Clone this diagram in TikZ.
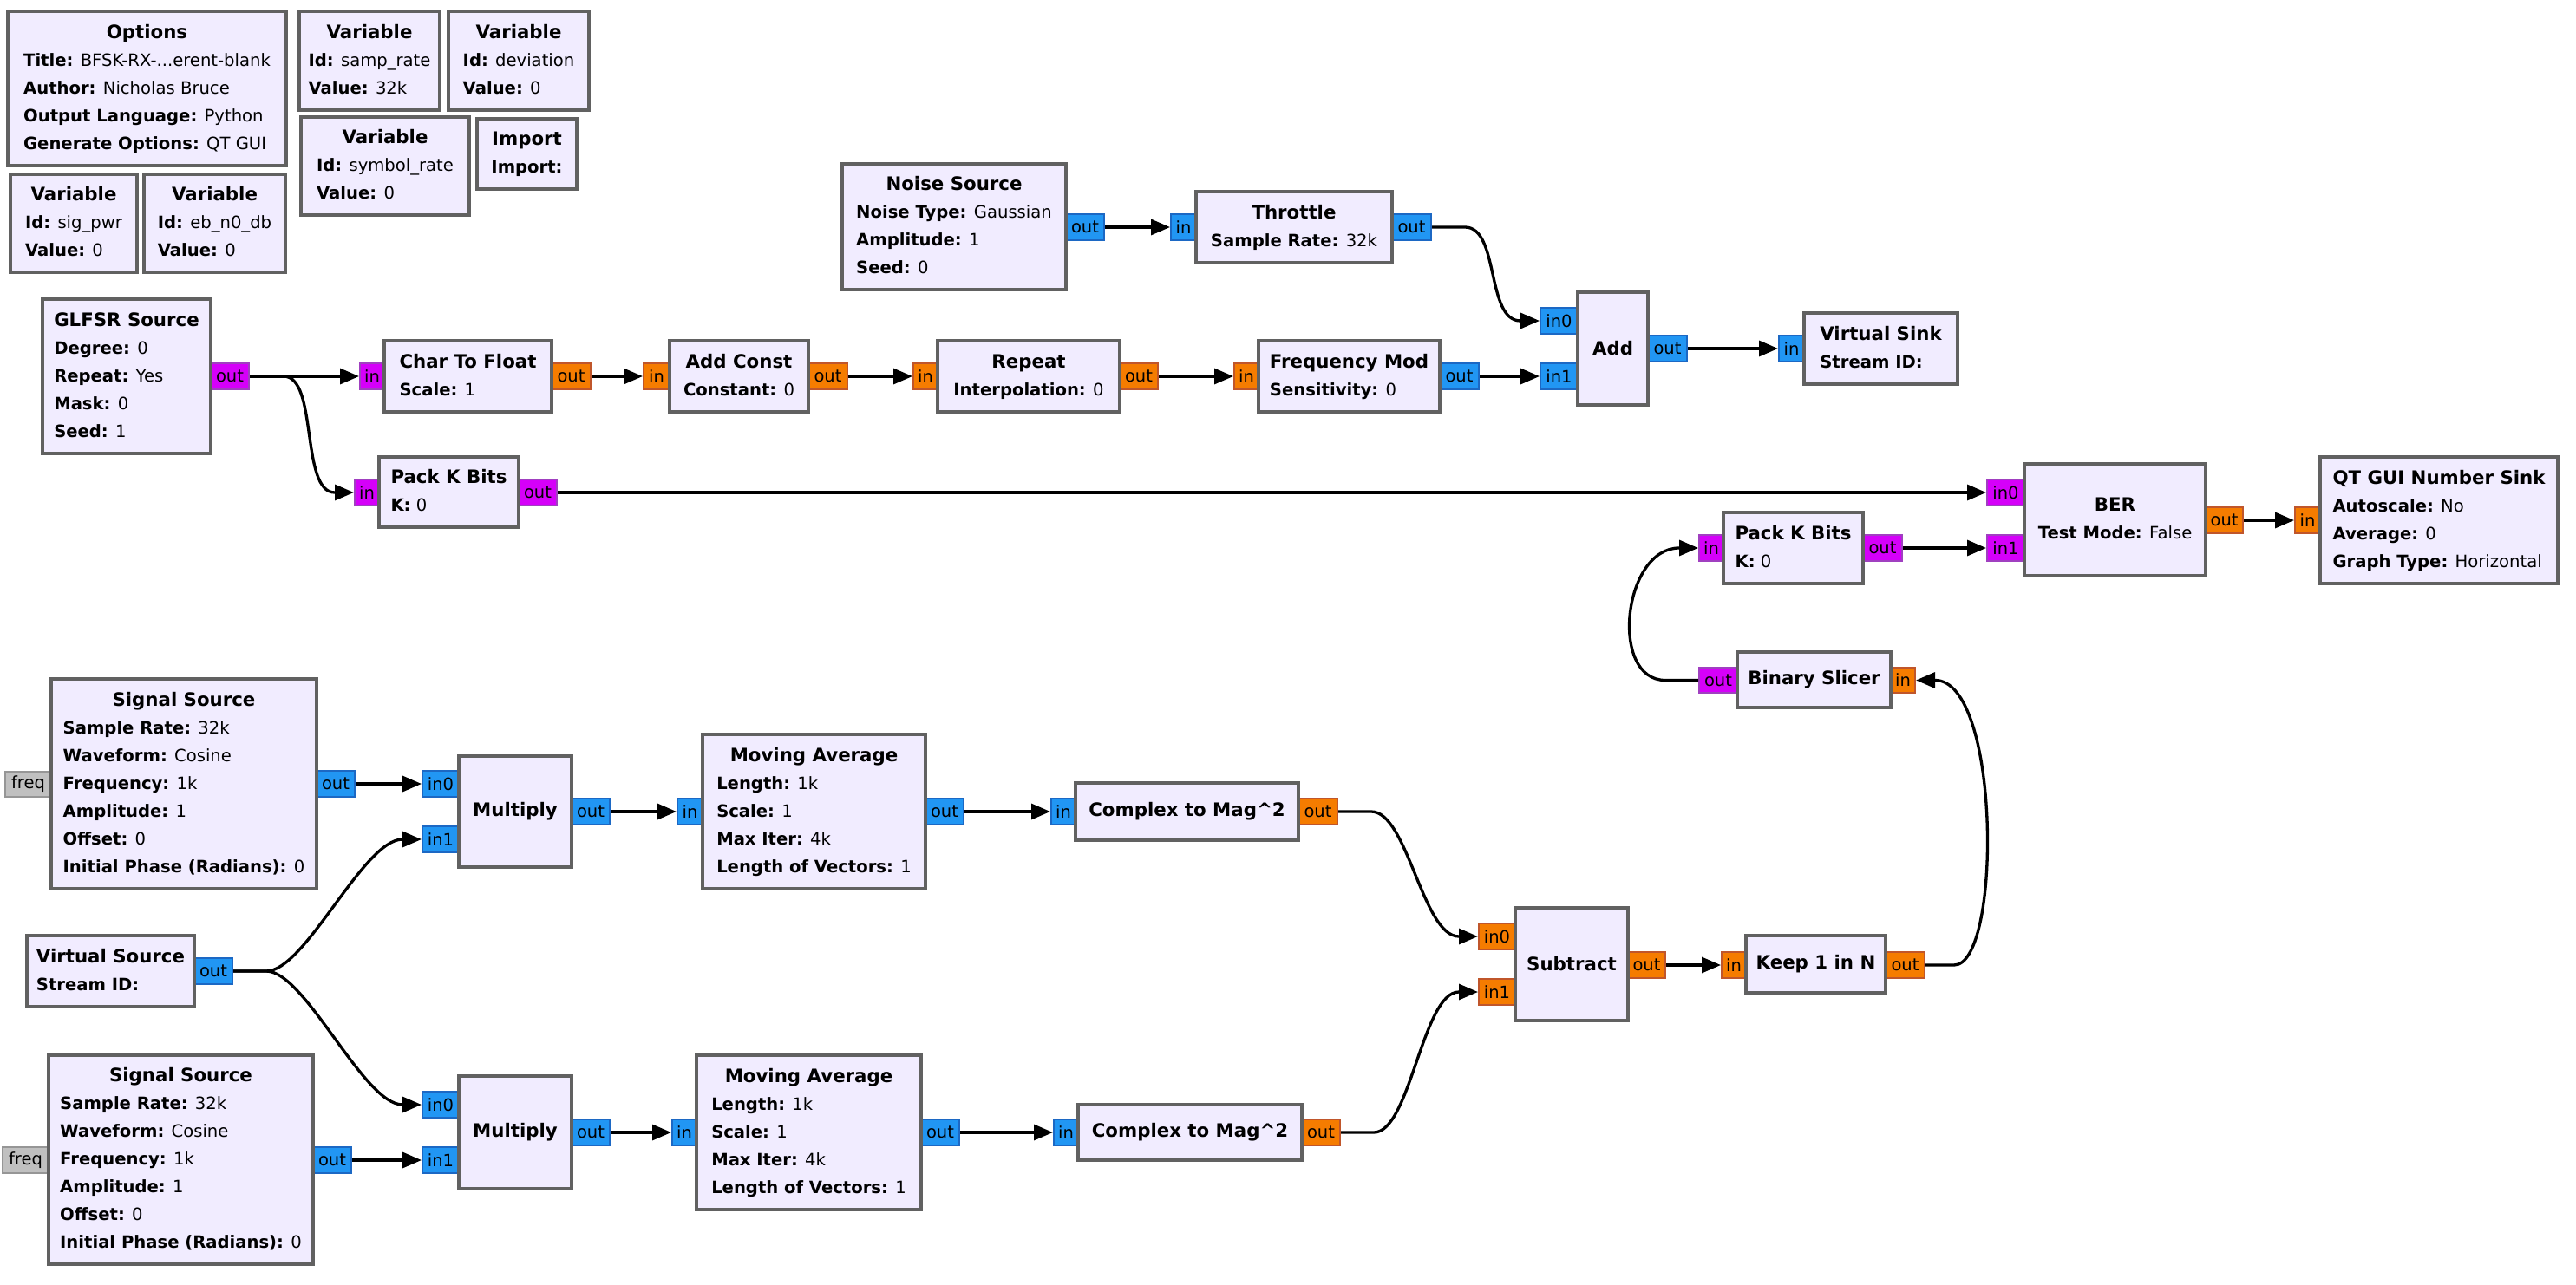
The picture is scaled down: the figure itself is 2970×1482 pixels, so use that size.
\documentclass[tikz,border=0pt]{standalone}
\usepackage{fontspec}
\setmainfont{DejaVu Sans}
\usetikzlibrary{arrows.meta,calc}
\definecolor{blkfill}{HTML}{F1ECFF}
\definecolor{blkline}{HTML}{616161}
\definecolor{cpx}{HTML}{2196F3}
\definecolor{cpxd}{HTML}{1C68C4}
\definecolor{flt}{HTML}{F57C00}
\definecolor{fltd}{HTML}{C0562B}
\definecolor{byt}{HTML}{D500F9}
\definecolor{bytd}{HTML}{A040C0}
\definecolor{msg}{HTML}{C0C0C0}
\definecolor{msgd}{HTML}{969696}
\newcommand\pf{\fontsize{19.6}{32}\selectfont}
\newcommand\tf{\fontsize{21.3}{32}\selectfont\bfseries}
\newcommand\portf{\fontsize{19.5}{24}\selectfont}
\newcommand\pv[2]{\textbf{#1:} #2}
\newcommand\bt[2]{\begin{tabular}{@{}l@{}}\multicolumn{1}{@{}c@{}}{\tf #1}\\#2\end{tabular}}
\newcommand\blk[6]{\node[blk, minimum width={(#4-#2)*1pt}, minimum height={(#5-#3)*1pt}] (#1) at ({(#2+#4)/2},{(#3+#5)/2}) {#6};}
\newcommand\prt[7]{\node[prt, #6, minimum width={(#4-#2)*1pt}, minimum height={(#5-#3)*1pt}] (#1) at ({(#2+#4)/2},{(#3+#5)/2}) {#7};}
\tikzset{
 blk/.style={draw=blkline, fill=blkfill, line width=3.5pt, inner sep=0pt, font=\pf},
 prt/.style={line width=2pt, inner sep=0pt, font=\portf, text=black},
 pc/.style={draw=cpxd, fill=cpx},
 pfl/.style={draw=fltd, fill=flt},
 pby/.style={draw=bytd, fill=byt},
 pms/.style={draw=msgd, fill=msg},
 conn/.style={line width=3.3pt, -{Triangle[length=22pt,width=18pt]}},
}
\begin{document}
\begin{tikzpicture}[x=1pt,y=-1pt]
\useasboundingbox[fill=white] (0,0) rectangle (2970,1482);
% ports
\prt{glfsr-out}{243}{419}{287}{449}{pby}{out}
\prt{c2f-in}{415}{419}{443}{449}{pby}{in}
\prt{c2f-out}{636}{419}{681}{449}{pfl}{out}
\prt{addc-in}{742}{419}{772}{449}{pfl}{in}
\prt{addc-out}{932}{419}{977}{449}{pfl}{out}
\prt{rep-in}{1053}{419}{1081}{449}{pfl}{in}
\prt{rep-out}{1291}{419}{1335}{449}{pfl}{out}
\prt{fmod-in}{1423}{419}{1451}{449}{pfl}{in}
\prt{fmod-out}{1660}{419}{1705}{449}{pc}{out}
\prt{noise-out}{1229}{247}{1273}{277}{pc}{out}
\prt{thr-in}{1350}{247}{1379}{277}{pc}{in}
\prt{thr-out}{1605}{247}{1650}{277}{pc}{out}
\prt{add-in0}{1776}{355}{1819}{385}{pc}{in0}
\prt{add-in1}{1776}{419}{1819}{449}{pc}{in1}
\prt{add-out}{1900}{387}{1945}{417}{pc}{out}
\prt{vsink-in}{2051}{387}{2080}{417}{pc}{in}
\prt{pack1-in}{409}{553}{437}{583}{pby}{in}
\prt{pack1-out}{598}{553}{642}{583}{pby}{out}
\prt{ber-in0}{2291}{553}{2334}{583}{pby}{in0}
\prt{ber-in1}{2291}{617}{2334}{647}{pby}{in1}
\prt{ber-out}{2543}{585}{2586}{615}{pfl}{out}
\prt{qt-in}{2646}{585}{2675}{615}{pfl}{in}
\prt{pack2-in}{1959}{617}{1987}{647}{pby}{in}
\prt{pack2-out}{2148}{617}{2193}{647}{pby}{out}
\prt{slc-out}{1959}{770}{2003}{799}{pby}{out}
\prt{slc-in}{2180}{770}{2208}{799}{pfl}{in}
\prt{ss1-freq}{6}{890}{59}{919}{pms}{freq}
\prt{ss1-out}{365}{889}{409}{919}{pc}{out}
\prt{mul1-in0}{487}{889}{529}{919}{pc}{in0}
\prt{mul1-in1}{487}{953}{529}{983}{pc}{in1}
\prt{mul1-out}{659}{921}{703}{951}{pc}{out}
\prt{ma1-in}{781}{921}{810}{951}{pc}{in}
\prt{ma1-out}{1067}{921}{1111}{951}{pc}{out}
\prt{cm1-in}{1212}{921}{1240}{951}{pc}{in}
\prt{cm1-out}{1497}{921}{1542}{951}{pfl}{out}
\prt{vsrc-out}{224}{1105}{268}{1135}{pc}{out}
\prt{ss2-freq}{3}{1323}{56}{1353}{pms}{freq}
\prt{ss2-out}{361}{1323}{405}{1353}{pc}{out}
\prt{mul2-in0}{487}{1259}{529}{1289}{pc}{in0}
\prt{mul2-in1}{487}{1323}{529}{1353}{pc}{in1}
\prt{mul2-out}{659}{1291}{703}{1321}{pc}{out}
\prt{ma2-in}{775}{1291}{803}{1321}{pc}{in}
\prt{ma2-out}{1062}{1291}{1106}{1321}{pc}{out}
\prt{cm2-in}{1215}{1291}{1243}{1321}{pc}{in}
\prt{cm2-out}{1501}{1291}{1545}{1321}{pfl}{out}
\prt{sub-in0}{1705}{1065}{1747}{1095}{pfl}{in0}
\prt{sub-in1}{1705}{1129}{1747}{1159}{pfl}{in1}
\prt{sub-out}{1877}{1098}{1920}{1128}{pfl}{out}
\prt{keep-in}{1985}{1098}{2013}{1128}{pfl}{in}
\prt{keep-out}{2174}{1098}{2219}{1128}{pfl}{out}
% blocks
\blk{opts}{9}{13}{330}{191}{\bt{Options}{\pv{Title}{BFSK-RX-...erent-blank}\\\pv{Author}{Nicholas Bruce}\\\pv{Output Language}{Python}\\\pv{Generate Options}{QT GUI}}}
\blk{vsamp}{345}{13}{507}{127}{\bt{Variable}{\pv{Id}{samp\_rate}\\\pv{Value}{32k}}}
\blk{vdev}{517}{13}{679}{127}{\bt{Variable}{\pv{Id}{deviation}\\\pv{Value}{0}}}
\blk{vsym}{347}{135}{541}{248}{\bt{Variable}{\pv{Id}{symbol\_rate}\\\pv{Value}{0}}}
\blk{imp}{550}{137}{665}{218}{\bt{Import}{\textbf{Import:}}}
\blk{vsig}{12}{201}{158}{314}{\bt{Variable}{\pv{Id}{sig\_pwr}\\\pv{Value}{0}}}
\blk{veb}{166}{201}{329}{314}{\bt{Variable}{\pv{Id}{eb\_n0\_db}\\\pv{Value}{0}}}
\blk{glfsr}{49}{345}{243}{523}{\bt{GLFSR Source}{\pv{Degree}{0}\\\pv{Repeat}{Yes}\\\pv{Mask}{0}\\\pv{Seed}{1}}}
\blk{c2f}{443}{393}{636}{475}{\bt{Char To Float}{\pv{Scale}{1}}}
\blk{addc}{772}{393}{932}{475}{\bt{Add Const}{\pv{Constant}{0}}}
\blk{rep}{1081}{393}{1291}{475}{\bt{Repeat}{\pv{Interpolation}{0}}}
\blk{fmod}{1451}{393}{1660}{475}{\bt{Frequency Mod}{\pv{Sensitivity}{0}}}
\blk{noise}{971}{189}{1229}{334}{\bt{Noise Source}{\pv{Noise Type}{Gaussian}\\\pv{Amplitude}{1}\\\pv{Seed}{0}}}
\blk{thr}{1379}{221}{1605}{303}{\bt{Throttle}{\pv{Sample Rate}{32k}}}
\blk{add}{1819}{337}{1900}{467}{{\tf Add}}
\blk{vsink}{2080}{361}{2257}{443}{\bt{Virtual Sink}{\textbf{Stream ID:}}}
\blk{pack1}{437}{527}{598}{608}{\bt{Pack K Bits}{\pv{K}{0}}}
\blk{ber}{2334}{535}{2543}{664}{\bt{BER}{\pv{Test Mode}{False}}}
\blk{qt}{2675}{527}{2949}{673}{\bt{QT GUI Number Sink}{\pv{Autoscale}{No}\\\pv{Average}{0}\\\pv{Graph Type}{Horizontal}}}
\blk{pack2}{1987}{591}{2148}{673}{\bt{Pack K Bits}{\pv{K}{0}}}
\blk{slc}{2003}{752}{2180}{816}{{\tf Binary Slicer}}
\blk{ss1}{59}{783}{365}{1025}{\bt{Signal Source}{\pv{Sample Rate}{32k}\\\pv{Waveform}{Cosine}\\\pv{Frequency}{1k}\\\pv{Amplitude}{1}\\\pv{Offset}{0}\\\pv{Initial Phase (Radians)}{0}}}
\blk{mul1}{529}{872}{659}{1000}{{\tf Multiply}}
\blk{ma1}{810}{847}{1067}{1025}{\bt{Moving Average}{\pv{Length}{1k}\\\pv{Scale}{1}\\\pv{Max Iter}{4k}\\\pv{Length of Vectors}{1}}}
\blk{cm1}{1240}{903}{1497}{969}{{\tf Complex to Mag\textasciicircum 2}}
\blk{vsrc}{31}{1079}{224}{1161}{\bt{Virtual Source}{\textbf{Stream ID:}}}
\blk{ss2}{56}{1217}{361}{1458}{\bt{Signal Source}{\pv{Sample Rate}{32k}\\\pv{Waveform}{Cosine}\\\pv{Frequency}{1k}\\\pv{Amplitude}{1}\\\pv{Offset}{0}\\\pv{Initial Phase (Radians)}{0}}}
\blk{mul2}{529}{1241}{659}{1371}{{\tf Multiply}}
\blk{ma2}{803}{1217}{1062}{1395}{\bt{Moving Average}{\pv{Length}{1k}\\\pv{Scale}{1}\\\pv{Max Iter}{4k}\\\pv{Length of Vectors}{1}}}
\blk{cm2}{1243}{1274}{1501}{1338}{{\tf Complex to Mag\textasciicircum 2}}
\blk{sub}{1747}{1047}{1877}{1177}{{\tf Subtract}}
\blk{keep}{2013}{1079}{2174}{1145}{{\tf Keep 1 in N}}
% straight connectors
\draw[conn] (glfsr-out.east) -- (glfsr-out.east -| c2f-in.west);
\draw[conn] (c2f-out.east) -- (c2f-out.east -| addc-in.west);
\draw[conn] (addc-out.east) -- (addc-out.east -| rep-in.west);
\draw[conn] (rep-out.east) -- (rep-out.east -| fmod-in.west);
\draw[conn] (fmod-out.east) -- (fmod-out.east -| add-in1.west);
\draw[conn] (noise-out.east) -- (noise-out.east -| thr-in.west);
\draw[conn] (add-out.east) -- (add-out.east -| vsink-in.west);
\draw[conn] (pack1-out.east) -- (pack1-out.east -| ber-in0.west);
\draw[conn] (pack2-out.east) -- (pack2-out.east -| ber-in1.west);
\draw[conn] (ber-out.east) -- (ber-out.east -| qt-in.west);
\draw[conn] (ss1-out.east) -- (ss1-out.east -| mul1-in0.west);
\draw[conn] (mul1-out.east) -- (mul1-out.east -| ma1-in.west);
\draw[conn] (ma1-out.east) -- (ma1-out.east -| cm1-in.west);
\draw[conn] (ss2-out.east) -- (ss2-out.east -| mul2-in1.west);
\draw[conn] (mul2-out.east) -- (mul2-out.east -| ma2-in.west);
\draw[conn] (ma2-out.east) -- (ma2-out.east -| cm2-in.west);
\draw[conn] (sub-out.east) -- (sub-out.east -| keep-in.west);
% curved connectors
\draw[conn] (glfsr-out.east) -- ++(39,0) .. controls +(40,0) and ($(pack1-in.west)+(-62,0)$) .. ($(pack1-in.west)+(-22,0)$) -- (pack1-in.west);
\draw[conn] (thr-out.east) -- ++(38,0) .. controls +(40,0) and ($(add-in0.west)+(-62,0)$) .. ($(add-in0.west)+(-22,0)$) -- (add-in0.west);
\draw[conn] (vsrc-out.east) -- ++(38,0) .. controls +(45,0) and ($(mul1-in1.west)+(-67,0)$) .. ($(mul1-in1.west)+(-22,0)$) -- (mul1-in1.west);
\draw[conn] (vsrc-out.east) -- ++(38,0) .. controls +(45,0) and ($(mul2-in0.west)+(-67,0)$) .. ($(mul2-in0.west)+(-22,0)$) -- (mul2-in0.west);
\draw[conn] (cm1-out.east) -- ++(38,0) .. controls +(42,0) and ($(sub-in0.west)+(-64,0)$) .. ($(sub-in0.west)+(-22,0)$) -- (sub-in0.west);
\draw[conn] (cm2-out.east) -- ++(38,0) .. controls +(42,0) and ($(sub-in1.west)+(-64,0)$) .. ($(sub-in1.west)+(-22,0)$) -- (sub-in1.west);
\draw[conn] (keep-out.east) -- ++(33,0) .. controls +(55,0) and ($(slc-in.east)+(98,0)$) .. ($(slc-in.east)+(22,0)$) -- (slc-in.east);
\draw[conn] (slc-out.west) -- ++(-38,0) .. controls +(-65,0) and ($(pack2-in.west)+(-87,0)$) .. ($(pack2-in.west)+(-22,0)$) -- (pack2-in.west);
\end{tikzpicture}
\end{document}
